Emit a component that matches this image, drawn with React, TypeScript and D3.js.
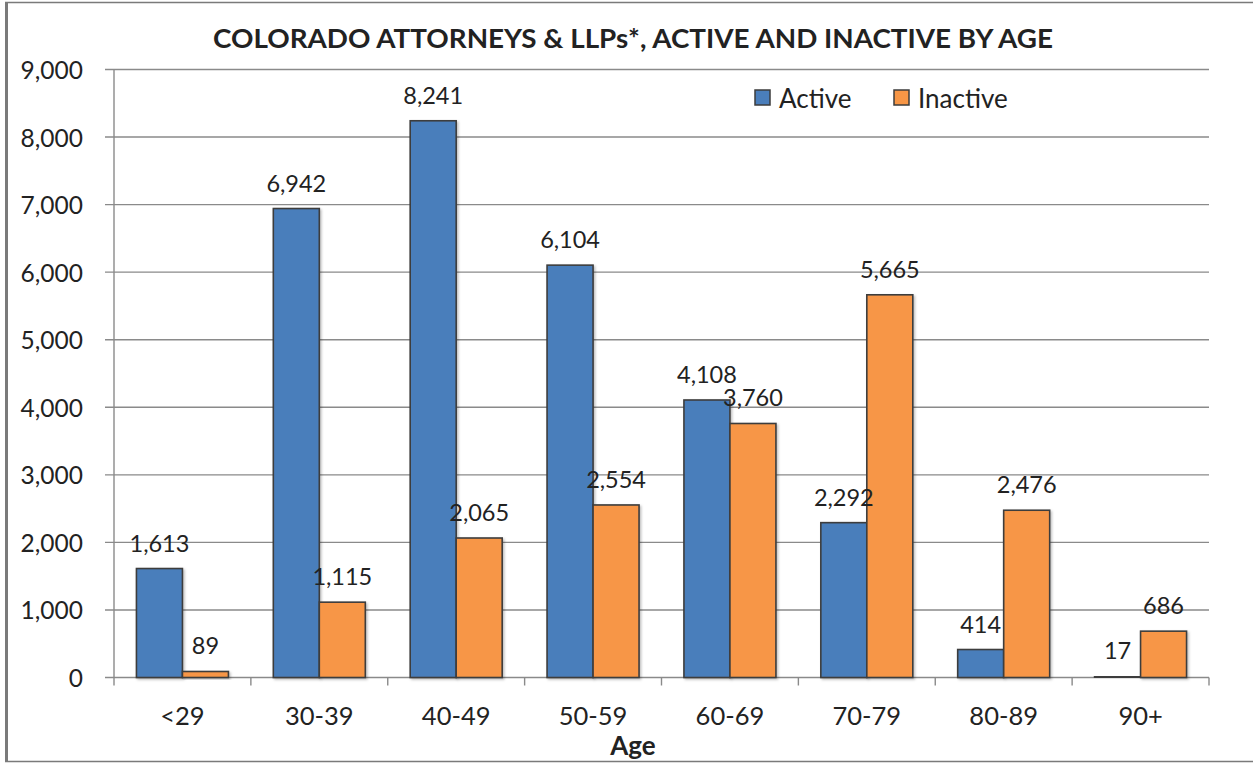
import React, { useEffect, useRef } from "react";
import * as d3 from "d3";

const ageGroups = ["<29", "30-39", "40-49", "50-59", "60-69", "70-79", "80-89", "90+"];
const activeCounts = [1613, 6942, 8241, 6104, 4108, 2292, 414, 17];
const inactiveCounts = [89, 1115, 2065, 2554, 3760, 5665, 2476, 686];
const seriesNames = ["Active", "Inactive"];
const yTicks = [0, 1000, 2000, 3000, 4000, 5000, 6000, 7000, 8000, 9000];

const W = 1253;
const H = 763;
const FONT = "Lato, 'Open Sans', sans-serif";
const TEXT = "#222";
const GRID = "#8a8a8a";
const colors: Record<string, string> = { Active: "#4a7ebb", Inactive: "#f79646" };

export default function App() {
  const svgRef = useRef<SVGSVGElement | null>(null);

  useEffect(() => {
    document.body.style.margin = "0";
    const svg = d3.select(svgRef.current);
    svg.selectAll("*").remove();

    const m = { left: 114, right: 1209, top: 69.5, bottom: 677.5 };

    const x = d3.scaleBand<string>().domain(ageGroups).range([m.left, m.right]).paddingInner(0).paddingOuter(0);
    const xs = d3.scaleBand<string>().domain(seriesNames).range([0, x.bandwidth()]).paddingInner(0).paddingOuter(0.488);
    const y = d3.scaleLinear().domain([0, 9000]).range([m.bottom, m.top]);

    const defs = svg.append("defs");
    const f = defs.append("filter").attr("id", "barShadow").attr("x", "-20%").attr("y", "-20%").attr("width", "150%").attr("height", "150%");
    f.append("feDropShadow").attr("dx", 1.5).attr("dy", 1.5).attr("stdDeviation", 1.2).attr("flood-color", "#000").attr("flood-opacity", 0.25);

    // frame
    svg.append("rect").attr("x", 0).attr("y", 0).attr("width", W).attr("height", H).attr("fill", "#fff");
    svg.append("line").attr("x1", 5).attr("x2", W).attr("y1", 2.5).attr("y2", 2.5).attr("stroke", "#7a7a7a").attr("stroke-width", 1.5);
    svg.append("line").attr("x1", 6.5).attr("x2", 6.5).attr("y1", 2).attr("y2", 762).attr("stroke", "#7a7a7a").attr("stroke-width", 3);
    svg.append("line").attr("x1", 5).attr("x2", W).attr("y1", 761.5).attr("y2", 761.5).attr("stroke", "#7a7a7a").attr("stroke-width", 1.5);

    // title
    svg.append("text")
      .attr("x", 633).attr("y", 37)
      .attr("text-anchor", "middle").attr("dominant-baseline", "central")
      .attr("font-family", FONT).attr("font-weight", 700).attr("font-size", 27)
      .attr("textLength", 840).attr("lengthAdjust", "spacingAndGlyphs")
      .attr("fill", TEXT)
      .text("COLORADO ATTORNEYS & LLPs*, ACTIVE AND INACTIVE BY AGE");

    // gridlines + y ticks
    const grid = svg.append("g");
    yTicks.forEach((t) => {
      grid.append("line")
        .attr("x1", 105).attr("x2", m.right)
        .attr("y1", y(t)).attr("y2", y(t))
        .attr("stroke", GRID).attr("stroke-width", 1.4);
      grid.append("text")
        .attr("x", 83).attr("y", y(t))
        .attr("text-anchor", "end").attr("dominant-baseline", "central")
        .attr("font-family", FONT).attr("font-size", 24.5).attr("fill", TEXT)
        .text(d3.format(",")(t));
    });

    // y axis line
    svg.append("line").attr("x1", m.left).attr("x2", m.left).attr("y1", m.top).attr("y2", m.bottom + 8)
      .attr("stroke", GRID).attr("stroke-width", 1.4);

    // x ticks at category boundaries + labels
    ageGroups.forEach((g) => {
      const bx = (x(g) as number) + x.bandwidth();
      svg.append("line").attr("x1", bx).attr("x2", bx).attr("y1", m.bottom).attr("y2", m.bottom + 8)
        .attr("stroke", GRID).attr("stroke-width", 1.4);
      svg.append("text")
        .attr("x", (x(g) as number) + x.bandwidth() / 2).attr("y", 715)
        .attr("text-anchor", "middle").attr("dominant-baseline", "central")
        .attr("font-family", FONT).attr("font-size", 25.5).attr("fill", TEXT)
        .text(g);
    });

    // bars
    const rows = ageGroups.map((g, i) => ({ g, vals: [activeCounts[i], inactiveCounts[i]] }));
    const groups = svg.append("g").selectAll("g").data(rows).enter().append("g")
      .attr("transform", (d) => `translate(${x(d.g)},0)`);

    groups.selectAll("rect")
      .data((d) => d.vals.map((v, j) => ({ s: seriesNames[j], v })))
      .enter().append("rect")
      .attr("x", (d) => xs(d.s) as number)
      .attr("y", (d) => y(d.v))
      .attr("width", xs.bandwidth())
      .attr("height", (d) => m.bottom - y(d.v))
      .attr("fill", (d) => colors[d.s])
      .attr("stroke", "#3d3d3d").attr("stroke-width", 1.6)
      .style("filter", "url(#barShadow)");

    // data labels
    groups.selectAll("text")
      .data((d) => d.vals.map((v, j) => ({ s: seriesNames[j], v })))
      .enter().append("text")
      .attr("x", (d) => (xs(d.s) as number) + xs.bandwidth() / 2)
      .attr("y", (d) => y(d.v) - 26)
      .attr("text-anchor", "middle").attr("dominant-baseline", "central")
      .attr("font-family", FONT).attr("font-size", 23.5).attr("fill", TEXT)
      .text((d) => d3.format(",")(d.v));

    // x axis title
    svg.append("text")
      .attr("x", 633).attr("y", 745)
      .attr("text-anchor", "middle").attr("dominant-baseline", "central")
      .attr("font-family", FONT).attr("font-weight", 700).attr("font-size", 26).attr("fill", TEXT)
      .text("Age");

    // legend
    const legendX = [755, 894];
    seriesNames.forEach((s, i) => {
      svg.append("rect").attr("x", legendX[i]).attr("y", 90).attr("width", 15).attr("height", 15)
        .attr("fill", colors[s]).attr("stroke", "#3d3d3d").attr("stroke-width", 1.5);
      svg.append("text").attr("x", legendX[i] + 24).attr("y", 97.5)
        .attr("dominant-baseline", "central")
        .attr("font-family", FONT).attr("font-size", 26).attr("fill", TEXT)
        .text(s);
    });
  }, []);

  return <svg ref={svgRef} width={W} height={H} viewBox={`0 0 ${W} ${H}`} style={{ display: "block" }} />;
}
